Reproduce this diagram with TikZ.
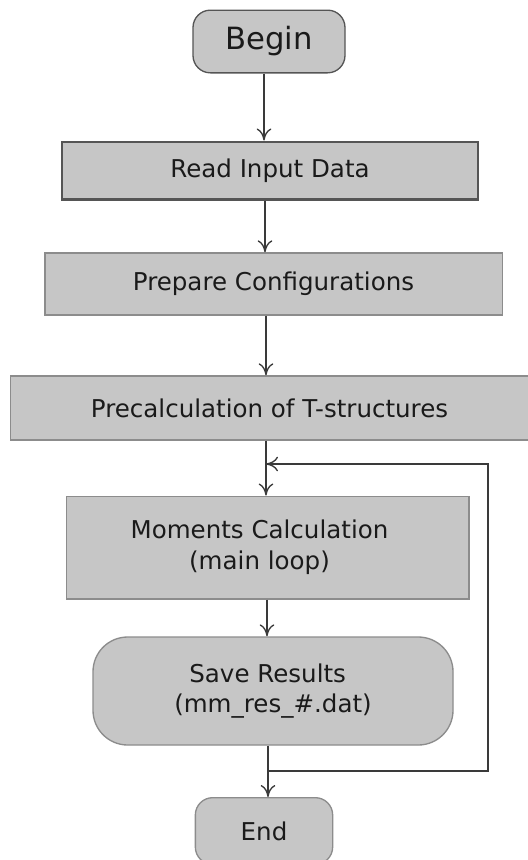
\documentclass[tikz,border=0pt]{standalone}
\usepackage{fontspec}
\setmainfont{DejaVu Sans}
\usetikzlibrary{arrows.meta}
\definecolor{boxfill}{HTML}{C6C6C6}
\definecolor{boxline}{HTML}{8C8C8C}
\definecolor{darkline}{HTML}{555555}
\definecolor{arrowcol}{HTML}{3A3A3A}
\definecolor{txt}{HTML}{1A1A1A}
\tikzset{
  box/.style={draw=boxline, line width=1pt, fill=boxfill, text=txt,
    font=\fontsize{18.4}{23}\selectfont, align=center, inner sep=0pt},
  terminal/.style={box, rounded corners=13pt},
  flow/.style={draw=arrowcol, line width=1.1pt, -{To[length=9pt,width=11pt,line width=1pt]}}
}
\newcommand{\padr}[1]{\hspace*{#1pt}}
\begin{document}
\begin{tikzpicture}[x=0.75pt,y=-0.75pt]
\useasboundingbox (0,0) rectangle (528,860);
\node[terminal, draw=darkline, minimum width=114pt, minimum height=47pt,
      font=\fontsize{23}{26}\selectfont] (begin) at (269,41.5) {Begin};
\node[box, draw=darkline, line width=2pt, minimum width=312pt, minimum height=43pt] (read) at (270,170.5) {Read Input Data};
\node[box, minimum width=343pt, minimum height=46.5pt] (prep) at (273.5,284) {Prepare Configurations};
\node[box, minimum width=389pt, minimum height=48pt] (pre) at (269.5,408) {Precalculation of T-structures};
\node[box, minimum width=302pt, minimum height=77pt] (mom) at (267.5,547.5) {Moments Calculation\padr{12}\\(main loop)\padr{12}};
\node[terminal, rounded corners=26pt, minimum width=270pt, minimum height=81pt] (save) at (273,691) {Save Results\padr{8}\\(mm\_res\_\#.dat)};
\node[terminal, minimum width=103pt, minimum height=50pt] (end) at (264,831) {End};

\coordinate (loopin) at (266,464);
\coordinate (loopout) at (266,771);
\coordinate (loopse) at (488,771);
\coordinate (loopne) at (488,464);

\draw[flow] (begin.south -| 264,0) -- (read.north -| 264,0);
\draw[flow] (read.south -| 265,0) -- (prep.north -| 265,0);
\draw[flow] (prep.south -| 266,0) -- (pre.north -| 266,0);
\draw[flow] (pre.south -| 266,0) -- (mom.north -| 266,0);
\draw[flow] (mom.south -| 267,0) -- (save.north -| 267,0);
\draw[flow] (save.south -| 268,0) -- (end.north -| 268,0);
\draw[flow] (loopout -| 268,0) -- (loopse) -- (loopne) -- (loopin);
\end{tikzpicture}
\end{document}
